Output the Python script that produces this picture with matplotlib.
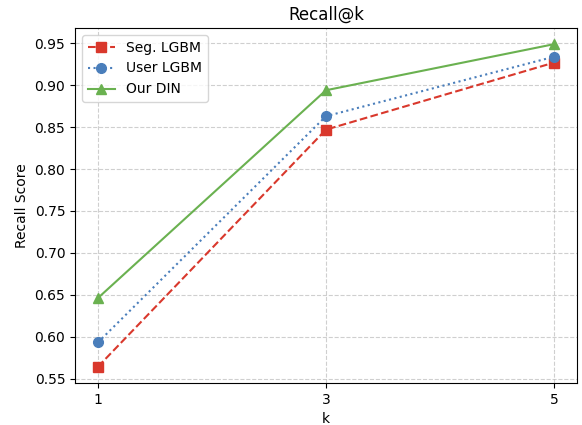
import matplotlib.pyplot as plt

k = [1, 3, 5]
seg_lgbm = [0.564, 0.847, 0.927]
user_lgbm = [0.593, 0.863, 0.934]
our_din = [0.646, 0.894, 0.949]

fig = plt.figure(figsize=(5.82, 4.25), dpi=100)
ax = fig.add_axes([0.129, 0.099, 0.862, 0.835])
ax.plot(k, seg_lgbm, marker='s', markersize=7, linestyle='--', color='#d9382c', label='Seg. LGBM')
ax.plot(k, user_lgbm, marker='o', markersize=7, linestyle=':', color='#4a7ebb', label='User LGBM')
ax.plot(k, our_din, marker='^', markersize=7, linestyle='-', color='#6ab150', label='Our DIN')
ax.set_title('Recall@k')
ax.set_xlabel('k')
ax.set_ylabel('Recall Score')
ax.set_xticks(k)
ax.grid(True, linestyle='--', alpha=0.6)
ax.legend(loc='upper left')
plt.savefig('out.png')
